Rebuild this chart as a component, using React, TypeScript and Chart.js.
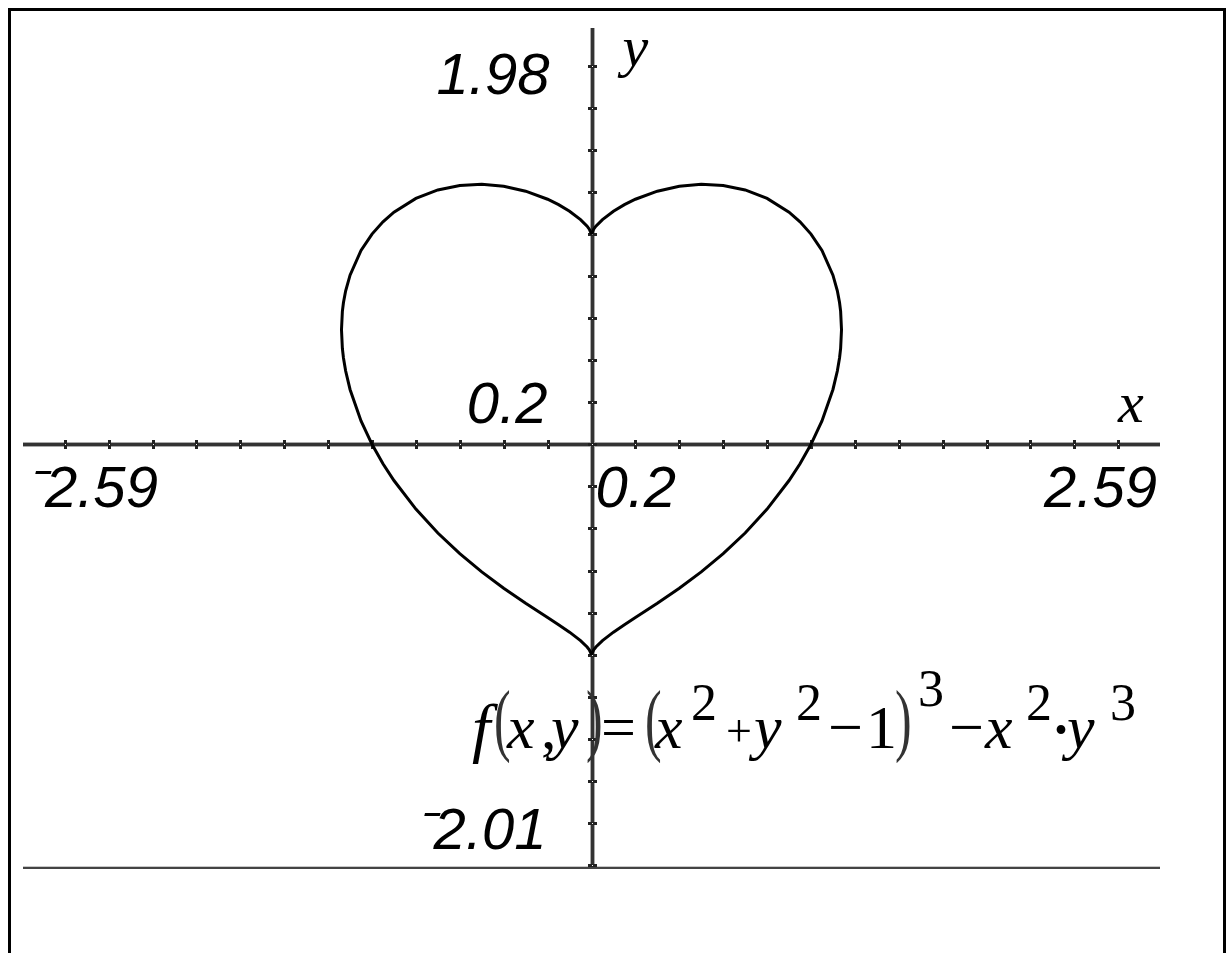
import React, { useEffect, useRef } from "react";
import { Chart, registerables } from "chart.js";

Chart.register(...registerables);

// Window settings
const xMin = -2.59;
const xMax = 2.59;
const yMin = -2.01;
const yMax = 1.98;

// Tick marks every 0.2 along both axes
const xTickValues = [
  -2.4, -2.2, -2.0, -1.8, -1.6, -1.4, -1.2, -1.0, -0.8, -0.6, -0.4, -0.2,
  0.2, 0.4, 0.6, 0.8, 1.0, 1.2, 1.4, 1.6, 1.8, 2.0, 2.2, 2.4,
];
const yTickValues = [
  -2.0, -1.8, -1.6, -1.4, -1.2, -1.0, -0.8, -0.6, -0.4, -0.2,
  0.2, 0.4, 0.6, 0.8, 1.0, 1.2, 1.4, 1.6, 1.8,
];

// Tick / window labels
const xMinLabel = "\u207B2.59";
const xMaxLabel = "2.59";
const yMaxLabel = "1.98";
const yMinLabel = "\u207B2.01";
const xScaleLabel = "0.2";
const yScaleLabel = "0.2";
const xAxisTitle = "x";
const yAxisTitle = "y";

// Heart curve points (right half x, left half x, upper and lower branch y)
const heartRightX = [
  0, 0.01, 0.02, 0.05, 0.1, 0.15, 0.2, 0.3, 0.4, 0.5, 0.6, 0.7, 0.8, 0.9,
  0.95, 1.0, 1.05, 1.1, 1.12, 1.13, 1.135, 1.139,
];
const heartLeftX = [
  0, -0.01, -0.02, -0.05, -0.1, -0.15, -0.2, -0.3, -0.4, -0.5, -0.6, -0.7,
  -0.8, -0.9, -0.95, -1.0, -1.05, -1.1, -1.12, -1.13, -1.135, -1.139,
];
const heartUpperY = [
  1.0, 1.0232, 1.0373, 1.0689, 1.1085, 1.1399, 1.1656, 1.204, 1.2273, 1.2365,
  1.2312, 1.2099, 1.1696, 1.1043, 1.0585, 1.0, 0.9219, 0.8046, 0.73, 0.6742,
  0.6322, 0.545,
];
const heartLowerY = [
  -1.0, -0.977, -0.9636, -0.9332, -0.8931, -0.8576, -0.8236, -0.7559, -0.6844,
  -0.6065, -0.5198, -0.4215, -0.3078, -0.1721, -0.0921, 0.0, 0.1112, 0.261,
  0.3485, 0.4108, 0.4559, 0.545,
];

function buildLoop(xs: number[]) {
  const upper = xs.map((x, i) => ({ x, y: heartUpperY[i] }));
  const lower = xs.map((x, i) => ({ x, y: heartLowerY[i] })).reverse();
  return upper.concat(lower);
}

type Piece = { t: string; x: number; y: number; font: string; sy?: number; color?: string };

const SERIF = '"Liberation Serif", "Times New Roman", serif';
const ITAL = `italic 62px ${SERIF}`;
const REG = `62px ${SERIF}`;
const PAREN = `50px ${SERIF}`;
const SUP = `52px ${SERIF}`;
const SMALL = `46px ${SERIF}`;
const PAREN_COLOR = "#333";

const formulaPieces: Piece[] = [
  { t: "f", x: 472, y: 750, font: `italic 66px ${SERIF}` },
  { t: "(", x: 494, y: 746, font: PAREN, sy: 1.6, color: PAREN_COLOR },
  { t: "x", x: 507, y: 748, font: ITAL },
  { t: ",", x: 541, y: 748, font: REG },
  { t: "y", x: 551, y: 748, font: ITAL },
  { t: ")", x: 586, y: 746, font: PAREN, sy: 1.6, color: PAREN_COLOR },
  { t: "=", x: 601, y: 748, font: REG },
  { t: "(", x: 645, y: 746, font: PAREN, sy: 1.6, color: PAREN_COLOR },
  { t: "x", x: 655, y: 748, font: ITAL },
  { t: "2", x: 691, y: 720, font: SUP },
  { t: "+", x: 726, y: 746, font: SMALL },
  { t: "y", x: 754, y: 748, font: ITAL },
  { t: "2", x: 796, y: 720, font: SUP },
  { t: "\u2212", x: 828, y: 748, font: REG },
  { t: "1", x: 866, y: 748, font: REG },
  { t: ")", x: 895, y: 746, font: PAREN, sy: 1.6, color: PAREN_COLOR },
  { t: "3", x: 918, y: 706, font: SUP },
  { t: "\u2212", x: 949, y: 748, font: REG },
  { t: "x", x: 985, y: 748, font: ITAL },
  { t: "2", x: 1026, y: 720, font: SUP },
  { t: "\u00B7", x: 1052, y: 748, font: `bold 54px ${SERIF}` },
  { t: "y", x: 1067, y: 748, font: ITAL },
  { t: "3", x: 1110, y: 720, font: SUP },
];

const tiPlugin = {
  id: "tiAxes",
  beforeDatasetsDraw(chart: any) {
    const { ctx } = chart;
    const xs = chart.scales.x;
    const ys = chart.scales.y;
    const x0 = Math.round(xs.getPixelForValue(0));
    const y0 = Math.round(ys.getPixelForValue(0));
    const left = Math.round(xs.getPixelForValue(xMin));
    const right = Math.round(xs.getPixelForValue(xMax));
    const top = Math.round(ys.getPixelForValue(yMax));
    const bottom = Math.round(ys.getPixelForValue(yMin));
    ctx.save();
    // bottom window line
    ctx.fillStyle = "#c8c8c8";
    ctx.fillRect(left, bottom - 1, right - left, 1);
    ctx.fillStyle = "#444";
    ctx.fillRect(left, bottom, right - left, 2);
    // axes
    ctx.fillStyle = "#aaa";
    ctx.fillRect(left, y0 - 2, right - left, 1);
    ctx.fillRect(left, y0 + 2, right - left, 1);
    ctx.fillRect(x0 - 2, top, 1, bottom - top);
    ctx.fillRect(x0 + 2, top, 1, bottom - top);
    ctx.fillStyle = "#333";
    ctx.fillRect(left, y0 - 1, right - left, 3);
    ctx.fillRect(x0 - 1, top, 3, bottom - top);
    // ticks
    for (const v of xTickValues) {
      const px = Math.round(xs.getPixelForValue(v));
      ctx.fillStyle = "#222";
      ctx.fillRect(px - 1, y0 - 4, 3, 9);
      ctx.fillStyle = "#fff";
      ctx.fillRect(px, y0, 1, 1);
    }
    for (const v of yTickValues) {
      const py = Math.round(ys.getPixelForValue(v));
      ctx.fillStyle = "#222";
      ctx.fillRect(x0 - 4, py - 1, 9, 3);
      ctx.fillStyle = "#fff";
      ctx.fillRect(x0, py, 1, 1);
    }
    ctx.fillStyle = "#222";
    ctx.fillRect(x0 - 4, y0 - 1, 9, 3);
    ctx.fillStyle = "#fff";
    ctx.fillRect(x0, y0, 1, 1);
    ctx.restore();
  },
  afterDatasetsDraw(chart: any) {
    const { ctx } = chart;
    const xs = chart.scales.x;
    const ys = chart.scales.y;
    const x0 = xs.getPixelForValue(0);
    const y0 = ys.getPixelForValue(0);
    const left = xs.getPixelForValue(xMin);
    const right = xs.getPixelForValue(xMax);
    const top = ys.getPixelForValue(yMax);
    const bottom = ys.getPixelForValue(yMin);
    ctx.save();
    ctx.fillStyle = "#000";
    ctx.textBaseline = "alphabetic";
    ctx.font = 'italic 58px "Liberation Sans", Arial, sans-serif';
    ctx.textAlign = "right";
    ctx.fillText(yMaxLabel, x0 - 42, top + 66);
    ctx.fillText(yScaleLabel, x0 - 44, y0 - 21);
    ctx.fillText(yMinLabel, x0 - 45, bottom - 18);
    ctx.fillText(xMaxLabel, right - 3, y0 + 63);
    ctx.textAlign = "left";
    ctx.fillText(xMinLabel, left + 2, y0 + 63);
    ctx.fillText(xScaleLabel, x0 + 4, y0 + 63);
    ctx.font = `italic 58px ${SERIF}`;
    ctx.fillText(xAxisTitle, right - 42, y0 - 22);
    ctx.fillText(yAxisTitle, x0 + 31, top + 38);
    for (const p of formulaPieces) {
      ctx.font = p.font;
      ctx.fillStyle = p.color || "#000";
      if (p.sy) {
        ctx.save();
        ctx.translate(p.x, p.y);
        ctx.scale(1, p.sy);
        ctx.fillText(p.t, 0, 0);
        ctx.restore();
      } else {
        ctx.fillText(p.t, p.x, p.y);
      }
    }
    ctx.restore();
  },
};

export default function App() {
  const canvasRef = useRef<HTMLCanvasElement | null>(null);

  useEffect(() => {
    const canvas = canvasRef.current;
    if (!canvas) return;
    const lineStyle = {
      showLine: true,
      borderColor: "#000",
      borderWidth: 3,
      pointRadius: 0,
      tension: 0,
      fill: false,
    };
    const chart = new Chart(canvas, {
      type: "scatter",
      data: {
        datasets: [
          { label: "right", data: buildLoop(heartRightX), ...lineStyle },
          { label: "left", data: buildLoop(heartLeftX), ...lineStyle },
        ],
      },
      options: {
        animation: false,
        responsive: false,
        devicePixelRatio: 1,
        layout: { padding: { left: 23, right: 67, top: 28, bottom: 86 } },
        plugins: {
          legend: { display: false },
          tooltip: { enabled: false },
          title: { display: false },
        },
        scales: {
          x: { type: "linear", min: xMin, max: xMax, display: false },
          y: { type: "linear", min: yMin, max: yMax, display: false },
        },
      },
      plugins: [tiPlugin],
    } as any);
    return () => chart.destroy();
  }, []);

  return (
    <div>
      <canvas
        ref={canvasRef}
        width={1227}
        height={953}
        style={{ position: "fixed", left: 0, top: 0, width: 1227, height: 953 }}
      />
      <div
        style={{
          position: "fixed",
          left: 8,
          top: 8,
          width: 1218,
          height: 960,
          border: "3px solid #000",
          boxSizing: "border-box",
          pointerEvents: "none",
        }}
      />
    </div>
  );
}
